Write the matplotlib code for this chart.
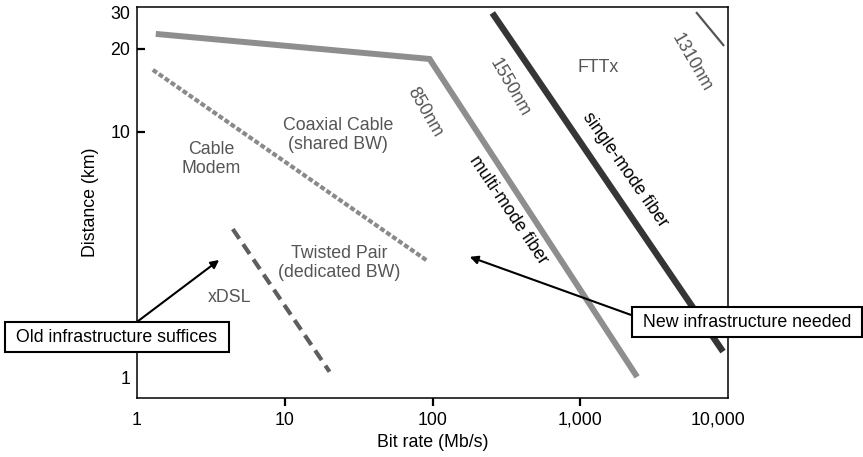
import numpy as np
import matplotlib

matplotlib.use("Agg")
import matplotlib.pyplot as plt
from matplotlib.transforms import ScaledTranslation

plt.rcParams["font.family"] = ["Liberation Sans", "DejaVu Sans"]
plt.rcParams["font.size"] = 12.8

# --- data ---
multi_mode_x = [1.34, 95.5, 2427]
multi_mode_y = [23.7, 18.4, 1.01]
single_mode_x = [254, 9250]
single_mode_y = [30.0, 1.28]
nm1310_x = [6080, 9400]
nm1310_y = [30.3, 20.7]
cable_x = [1.28, 92.5]
cable_y = [16.8, 2.99]
xdsl_x = [4.45, 20.1]
xdsl_y = [4.03, 1.06]

x_ticks = [1, 10, 100, 1000, 10000]
x_labels = ["1", "10", "100", "1,000", "10,000"]
y_ticks = [1, 10, 20, 30]
y_labels = ["1", "10", "20", "30"]

# the original axis is only roughly logarithmic: 10->20->30 are stretched
Y_LOG = [-1.0, 0.0, 1.0, np.log10(20), np.log10(30), 2.0]
Y_PX = [-246.0, 0.0, 246.0, 329.0, 365.0, 472.0]


def _fwd(y):
    y = np.asarray(y, dtype=float)
    return np.interp(np.log10(np.clip(y, 1e-3, None)), Y_LOG, Y_PX)


def _inv(v):
    return 10 ** np.interp(np.asarray(v, dtype=float), Y_PX, Y_LOG)


fig = plt.figure(figsize=(8.63, 4.57), dpi=100)
ax = fig.add_axes([137 / 863, (457 - 398) / 457, 591 / 863, 391 / 457])
ax.set_xscale("log")
ax.set_yscale("function", functions=(_fwd, _inv))
ax.set_xlim(1, 10000)
ax.set_ylim(0.829, 32.09)

ax.plot(multi_mode_x, multi_mode_y, color="#8e8e8e", lw=4.3,
        solid_capstyle="butt", solid_joinstyle="miter")
ax.plot(single_mode_x, single_mode_y, color="#353535", lw=4.6,
        solid_capstyle="butt")
ax.plot(nm1310_x, nm1310_y, color="#555555", lw=1.6, solid_capstyle="butt")
ax.plot(cable_x, cable_y, color="#8a8a8a", lw=3.0, ls=(0, (1.2, 0.55)))
ax.plot(xdsl_x, xdsl_y, color="#5e5e5e", lw=3.0, ls=(0, (2.8, 1.6)))

# ticks
ax.set_xticks(x_ticks, x_labels)
ax.set_yticks(y_ticks, y_labels)
ax.xaxis.set_minor_locator(matplotlib.ticker.NullLocator())
ax.yaxis.set_minor_locator(matplotlib.ticker.NullLocator())
ax.tick_params(axis="x", direction="out", length=6, width=1.6, pad=4)
ax.tick_params(axis="y", direction="in", length=6, width=1.6, pad=5)
xt = ax.xaxis.get_major_ticks()
yt = ax.yaxis.get_major_ticks()
for t in (xt[0], xt[-1], yt[0], yt[-1]):
    t.tick1line.set_visible(False)
lbl = xt[-1].label1
lbl.set_transform(lbl.get_transform() + ScaledTranslation(-10 / 100, 0, fig.dpi_scale_trans))
for s in ax.spines.values():
    s.set_linewidth(1.1)

ax.set_xlabel("Bit rate (Mb/s)", labelpad=4)
ax.set_ylabel("Distance (km)", labelpad=8)

# labels inside the plot
grey = "#555555"
T = ax.transAxes
ax.text(0.125, 0.611, "Cable\nModem", color=grey, ha="center", va="center", transform=T)
ax.text(0.340, 0.673, "Coaxial Cable\n(shared BW)", color=grey, ha="center", va="center", transform=T)
ax.text(0.342, 0.345, "Twisted Pair\n(dedicated BW)", color=grey, ha="center", va="center", transform=T)
ax.text(0.157, 0.258, "xDSL", color=grey, ha="center", va="center", transform=T)
ax.text(0.487, 0.731, "850nm", color=grey, ha="center", va="center", rotation=-60, transform=T)
ax.text(0.631, 0.793, "1550nm", color=grey, ha="center", va="center", rotation=-60, transform=T)
ax.text(0.780, 0.844, "FTTx", color=grey, ha="center", va="center", transform=T)
ax.text(0.939, 0.857, "1310nm", color=grey, ha="center", va="center", rotation=-60, transform=T)
ax.text(0.629, 0.481, "multi-mode fiber", color="black", ha="center", va="center", rotation=-56, transform=T)
ax.text(0.826, 0.583, "single-mode fiber", color="black", ha="center", va="center", rotation=-55, transform=T)

box = dict(boxstyle="square,pad=0.35", fc="white", ec="black", lw=1.5)
ax.annotate(" Old infrastructure suffices ", xy=(0.139, 0.353), xycoords="axes fraction",
            xytext=(-0.034, 0.156), textcoords="axes fraction", ha="center", va="center",
            bbox=box, annotation_clip=False,
            arrowprops=dict(arrowstyle="-|>", color="black", lw=1.5, mutation_scale=12,
                            shrinkA=0, shrinkB=0))
ax.annotate(" New infrastructure needed ", xy=(0.563, 0.361), xycoords="axes fraction",
            xytext=(1.032, 0.194), textcoords="axes fraction", ha="center", va="center",
            bbox=box, annotation_clip=False,
            arrowprops=dict(arrowstyle="-|>", color="black", lw=1.5, mutation_scale=12,
                            shrinkA=0, shrinkB=0, relpos=(0.0, 0.78)))

fig.savefig("out.png", dpi=100)
